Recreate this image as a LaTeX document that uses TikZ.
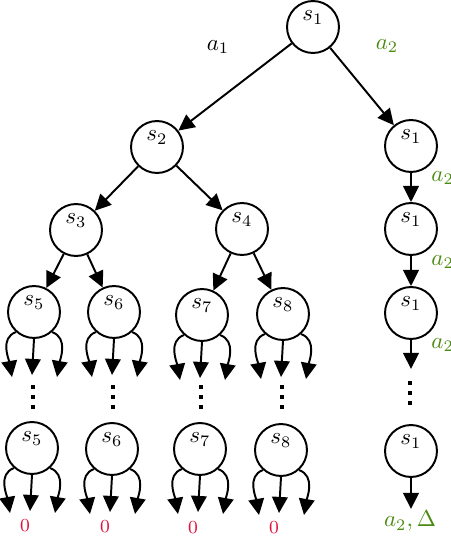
\documentclass[tikz,border=0pt]{standalone}
\usetikzlibrary{arrows.meta}
\definecolor{agreen}{HTML}{4A8A10}
\definecolor{zred}{HTML}{E0103A}
\begin{document}
\begin{tikzpicture}[x=0.435pt,y=0.435pt,
  st/.style={circle,draw,line width=0.85pt,minimum size=22.6pt,inner sep=0pt,
    label={[anchor=north,yshift=-1.2pt]north:$#1$}},
  arr/.style={-{Triangle[length=7pt,width=6.8pt]},line width=0.85pt},
  dot/.style={fill=black},
  gl/.style={text=agreen},
  zl/.style={text=zred,font=\footnotesize}]
\useasboundingbox (0,0) rectangle (450,-536);
% main nodes
\node[st=s_1] (n1) at (313,-27) {};
\node[st=s_2] (n2) at (157,-147) {};
\node[st=s_3] (n3) at (76,-230) {};
\node[st=s_4] (n4) at (242,-229) {};
\node[st=s_5] (n5) at (34,-312) {};
\node[st=s_6] (n6) at (114,-312) {};
\node[st=s_7] (n7) at (202,-315) {};
\node[st=s_8] (n8) at (283,-314) {};
\node[st=s_5] (b5) at (32,-448) {};
\node[st=s_6] (b6) at (112,-449) {};
\node[st=s_7] (b7) at (200,-449) {};
\node[st=s_8] (b8) at (281,-450) {};
% right chain
\node[st=s_1] (r1) at (411,-146) {};
\node[st=s_1] (r2) at (411,-229) {};
\node[st=s_1] (r3) at (411,-313) {};
\node[st=s_1] (r4) at (411,-451) {};
\coordinate (r3e) at (411,-369);
\coordinate (r4e) at (411,-509);
% edges
\draw[arr] (n1) -- (n2);
\draw[arr] (n1) -- (r1);
\draw[arr] (n2) -- (n3);
\draw[arr] (n2) -- (n4);
\draw[arr] (n3) -- (n5);
\draw[arr] (n3) -- (n6);
\draw[arr] (n4) -- (n7);
\draw[arr] (n4) -- (n8);
\draw[arr] (r1) -- (r2);
\draw[arr] (r2) -- (r3);
\draw[arr] (r3) -- (r3e);
\draw[arr] (r4) -- (r4e);
% triple arrows
\foreach \n in {n5,n6,n7,n8,b5,b6,b7,b8}{
  \draw[arr] (\n.228) to[out=200,in=100] ([shift={(-22,-65)}]\n.center);
  \draw[arr] (\n.south) -- ([shift={(-2,-63)}]\n.center);
  \draw[arr] (\n.-48) to[out=-20,in=80] ([shift={(23,-65)}]\n.center);
}
% vertical dots
\foreach \x/\y in {33/387,113/387,201/387,282/387,410/383}{
  \foreach \k in {0,10,20}{
    \fill[dot] (\x-1.6,-\y-\k-1.6) rectangle (\x+1.6,-\y-\k+1.6);
  }
}
% labels
\node (la1) at (218,-47) {$a_1$};
\node[gl] (la2) at (387,-46) {$a_2$};
\node[gl,anchor=west,inner sep=0pt] (lr1) at (431,-178) {$a_2$};
\node[gl,anchor=west,inner sep=0pt] (lr2) at (431,-262) {$a_2$};
\node[gl,anchor=west,inner sep=0pt] (lr3) at (431,-345) {$a_2$};
\node[gl] (lr4) at (410,-521) {$a_2,\Delta$};
\node[zl] (z5) at (25,-526) {0};
\node[zl] (z6) at (105,-527) {0};
\node[zl] (z7) at (193,-528) {0};
\node[zl] (z8) at (274,-528) {0};
\end{tikzpicture}
\end{document}
